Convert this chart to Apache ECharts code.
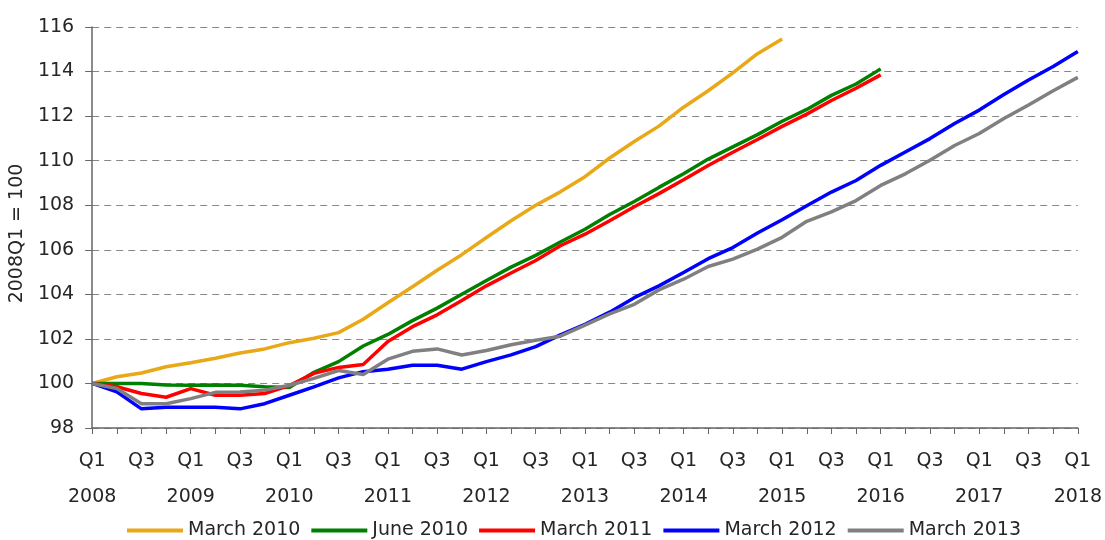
<!DOCTYPE html>
<html lang="en">
<head>
    <meta charset="UTF-8">
    <title>Index chart</title>
    <style>
        html, body { margin: 0; padding: 0; background: #fff; }
        #chart { width: 1105px; height: 540px; }
    </style>
</head>
<body>
    <div id="chart"></div>
    <script src="https://cdn.jsdelivr.net/npm/echarts@6/dist/echarts.min.js"></script>
    <script>
        // quarters 2008Q1 .. 2018Q1
        var years = [2008, 2009, 2010, 2011, 2012, 2013, 2014, 2015, 2016, 2017, 2018];
        var quarterNames = ['Q1', 'Q2', 'Q3', 'Q4'];

        var seriesNames = ['March 2010', 'June 2010', 'March 2011', 'March 2012', 'March 2013'];
        var seriesColors = ['#E8A817', '#008000', '#FF0000', '#0000FF', '#808080'];

        var march2010 = [100, 100.3, 100.47, 100.75, 100.93, 101.13, 101.37, 101.55, 101.83, 102.03,
            102.28, 102.88, 103.62, 104.34, 105.08, 105.78, 106.55, 107.3, 108.0, 108.6,
            109.28, 110.12, 110.86, 111.55, 112.4, 113.14, 113.94, 114.8, 115.46];
        var june2010 = [100, 100.0, 100.0, 99.93, 99.92, 99.93, 99.92, 99.85, 99.82, 100.5,
            100.98, 101.68, 102.2, 102.82, 103.38, 104.0, 104.62, 105.22, 105.75, 106.35,
            106.92, 107.58, 108.17, 108.8, 109.41, 110.07, 110.62, 111.17, 111.77, 112.3,
            112.93, 113.44, 114.12];
        var march2011 = [100, 99.85, 99.55, 99.38, 99.77, 99.47, 99.47, 99.55, 99.9, 100.45,
            100.72, 100.85, 101.88, 102.55, 103.08, 103.72, 104.38, 104.96, 105.52, 106.18,
            106.7, 107.3, 107.93, 108.52, 109.14, 109.78, 110.38, 110.95, 111.54, 112.09,
            112.7, 113.25, 113.85];
        var march2012 = [100, 99.62, 98.86, 98.93, 98.93, 98.93, 98.86, 99.09, 99.47, 99.85,
            100.25, 100.53, 100.64, 100.82, 100.82, 100.64, 100.98, 101.28, 101.65, 102.18,
            102.65, 103.2, 103.85, 104.38, 104.98, 105.6, 106.1, 106.75, 107.35, 107.98,
            108.59, 109.11, 109.79, 110.39, 110.99, 111.67, 112.27, 112.97, 113.62, 114.23,
            114.9];
        var march2013 = [100, 99.77, 99.09, 99.09, 99.32, 99.6, 99.62, 99.7, 99.92, 100.23,
            100.58, 100.4, 101.09, 101.44, 101.55, 101.28, 101.48, 101.74, 101.94, 102.12,
            102.62, 103.12, 103.55, 104.2, 104.68, 105.25, 105.58, 106.03, 106.56, 107.28,
            107.7, 108.21, 108.89, 109.41, 110.02, 110.68, 111.22, 111.89, 112.5, 113.14,
            113.74];

        var allData = [march2010, june2010, march2011, march2012, march2013];

        var categories = [];
        for (var y = 0; y < years.length; y++) {
            for (var q = 0; q < 4; q++) {
                if (years[y] === 2018 && q > 0) break;
                categories.push(quarterNames[q] + ' ' + years[y]);
            }
        }

        var font = 'DejaVu Sans';
        var textColor = '#262626';

        var series = [];
        for (var i = 0; i < seriesNames.length; i++) {
            series.push({
                name: seriesNames[i],
                type: 'line',
                data: allData[i],
                showSymbol: false,
                symbol: 'none',
                lineStyle: { width: 3.5, color: seriesColors[i] },
                itemStyle: { color: seriesColors[i] }
            });
        }

        var myChart = echarts.init(document.getElementById('chart'));
        var option = {
            animation: false,
            grid: { left: 89, right: 27, top: 27, bottom: 112 },
            legend: {
                data: seriesNames,
                left: 127,
                top: 521,
                padding: 0,
                icon: 'rect',
                itemWidth: 56,
                itemHeight: 4,
                itemGap: 11,
                textStyle: { fontFamily: font, fontSize: 19, color: textColor }
            },
            xAxis: {
                type: 'category',
                data: categories,
                boundaryGap: false,
                axisLine: { lineStyle: { color: '#666', width: 1.5 } },
                axisTick: { show: true, interval: 0, length: 6, lineStyle: { color: '#666' } },
                axisLabel: {
                    interval: 1,
                    margin: 15,
                    fontFamily: font,
                    fontSize: 19,
                    lineHeight: 36,
                    color: textColor,
                    formatter: function (val) {
                        var parts = val.split(' ');
                        return parts[0] === 'Q1' ? parts[0] + '\n' + parts[1] : parts[0];
                    }
                },
                splitLine: { show: false }
            },
            yAxis: {
                type: 'value',
                min: 98,
                max: 116,
                interval: 2,
                name: '2008Q1 = 100',
                nameLocation: 'middle',
                nameRotate: 90,
                nameGap: 63,
                nameTextStyle: { fontFamily: font, fontSize: 19, color: textColor, padding: [0, 12, 0, 0] },
                axisLine: { show: true, lineStyle: { color: '#666', width: 1.5 } },
                axisTick: { show: true, length: 7, lineStyle: { color: '#666' } },
                axisLabel: { margin: 18, fontFamily: font, fontSize: 19, color: textColor },
                splitLine: { show: true, lineStyle: { color: '#888', type: [7, 5], width: 1 } }
            },
            series: series
        };
        myChart.setOption(option);
    </script>
</body>
</html>
